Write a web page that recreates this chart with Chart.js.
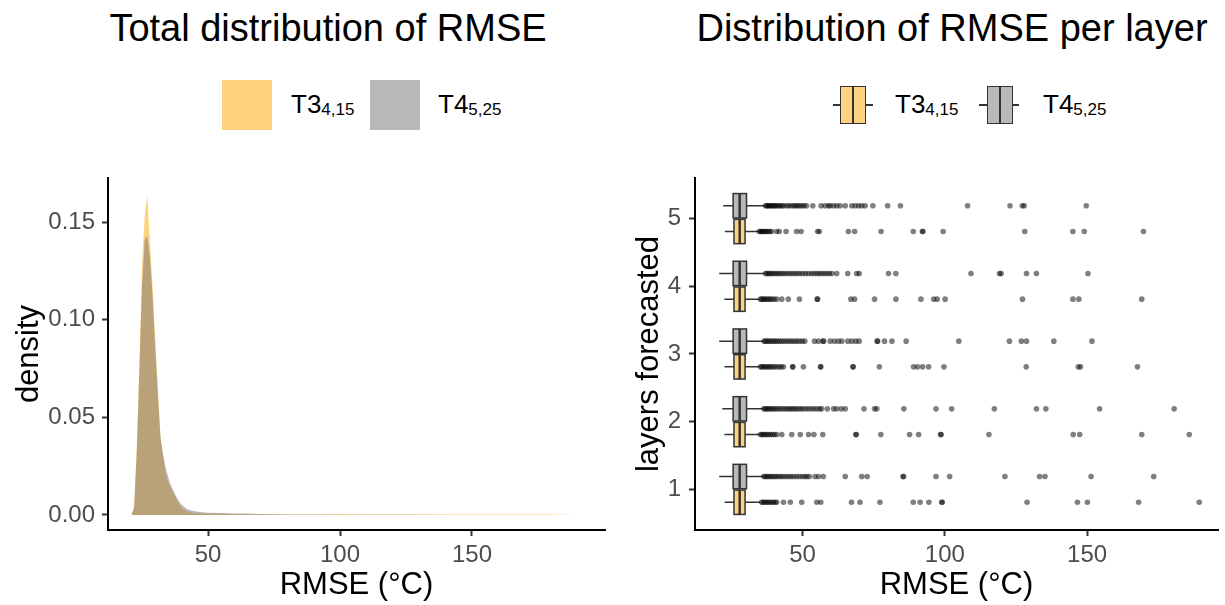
<!DOCTYPE html>
<html>
<head>
<meta charset="utf-8">
<script src="https://cdn.jsdelivr.net/npm/chart.js@4.4.1/dist/chart.umd.min.js"></script>
<style>
  body { margin: 0; background: #fff; font-family: "Liberation Sans", Arial, sans-serif; }
  #page { position: relative; width: 1225px; height: 605px; overflow: hidden; background: #fff; }
  .title { position: absolute; top: 6px; font-size: 38px; line-height: 44px; color: #000; white-space: nowrap; transform: translateX(-50%); }
  .key { position: absolute; box-sizing: border-box; }
  .lab { position: absolute; top: 89px; font-size: 26px; line-height: 30px; color: #000; white-space: nowrap; }
  .lab sub { font-size: 17px; vertical-align: -2px; line-height: 0; }
  .whisk { position: absolute; height: 1.5px; background: #333; }
  .box { position: absolute; border: 1.5px solid #333; box-sizing: border-box; }
  .med { position: absolute; width: 2px; background: #333; }
  canvas { position: absolute; top: 150px; }
</style>
</head>
<body>
<div id="page">
  <div class="title" style="left:328px">Total distribution of RMSE</div>
  <div class="title" style="left:952px">Distribution of RMSE per layer</div>

  <!-- left legend -->
  <div class="key" style="left:222px;top:80px;width:50px;height:50px;background:rgba(255,165,0,0.5)"></div>
  <div class="lab" style="left:291px">T3<sub>4,15</sub></div>
  <div class="key" style="left:370px;top:80px;width:50px;height:50px;background:rgba(115,115,115,0.5)"></div>
  <div class="lab" style="left:438px">T4<sub>5,25</sub></div>

  <!-- right legend -->
  <div class="whisk" style="left:833px;top:104px;width:40px"></div>
  <div class="box" style="left:840px;top:86px;width:26px;height:38px;background:#ffd280"></div>
  <div class="med" style="left:852px;top:86px;height:38px"></div>
  <div class="lab" style="left:895px">T3<sub>4,15</sub></div>
  <div class="whisk" style="left:979px;top:104px;width:40px"></div>
  <div class="box" style="left:987px;top:86px;width:26px;height:38px;background:#b9b9b9"></div>
  <div class="med" style="left:999px;top:86px;height:38px"></div>
  <div class="lab" style="left:1043px">T4<sub>5,25</sub></div>

  <canvas id="chartDensity" width="612" height="455" style="left:0px"></canvas>
  <canvas id="chartBox" width="613" height="455" style="left:612px"></canvas>
</div>

<script>
// ---- density panel ----
const rmseGrid = [21, 22, 23, 24, 25, 26, 27, 28, 29, 30, 31, 32, 33, 34, 35, 36, 37, 38, 39, 40,
  42, 44, 46, 48, 50, 55, 60, 65, 70, 80, 90, 100, 110, 120, 130, 140, 150, 160, 170, 180, 190];
const densityT3 = [0, 0.004, 0.035, 0.078, 0.128, 0.153, 0.164, 0.139, 0.117, 0.090, 0.064, 0.039,
  0.0296, 0.0213, 0.0164, 0.0136, 0.0109, 0.0082, 0.0058, 0.0037, 0.0016, 0.0011, 0.0009, 0.0008,
  0.0007, 0.0006, 0.0005, 0.0004, 0.0004, 0.0003, 0.0003, 0.0004, 0.0002, 0.0002, 0.0003, 0.0002,
  0.0003, 0.0002, 0.0003, 0.0002, 0];
const densityT4 = [0, 0.004, 0.032, 0.074, 0.118, 0.141, 0.143, 0.132, 0.112, 0.086, 0.062, 0.040,
  0.031, 0.024, 0.019, 0.015, 0.012, 0.0092, 0.007, 0.0052, 0.003, 0.0022, 0.0017, 0.0014,
  0.0012, 0.0010, 0.0008, 0.0007, 0.0005, 0.0003, 0.0002, 0.00015, 0.0001, 0.0001, 0.0001, 0.00005,
  0.00005, 0.00005, 0.00005, 0.00005, 0];
const densityXTicks = [50, 100, 150];
const densityYTicks = [0, 0.05, 0.10, 0.15];

// ---- boxplot panel ----
const layers = [1, 2, 3, 4, 5];
const layerTicks = [1, 2, 3, 4, 5];
const boxXTicks = [50, 100, 150];

const t3Lower = [22.6, 22.5, 22.6, 22.5, 22.7];
const t3Q1 = [25.9, 25.9, 25.9, 25.9, 25.9];
const t3Median = [27.9, 27.9, 27.9, 27.9, 27.9];
const t3Q3 = [29.8, 29.8, 29.8, 29.8, 29.8];
const t3Upper = [35.0, 34.8, 34.8, 34.8, 34.5];

const t4Lower = [20.7, 21.8, 20.7, 20.7, 22.1];
const t4Q1 = [25.6, 25.6, 25.6, 25.6, 25.6];
const t4Median = [27.9, 27.9, 27.9, 27.9, 27.9];
const t4Q3 = [30.3, 30.3, 30.3, 30.3, 30.3];
const t4Upper = [36.2, 36.2, 36.3, 36.6, 36.6];

// outliers, one list per layer (1..5)
const t3Outliers = [
  [35.6, 36.1, 36.6, 37.2, 37.8, 38.4, 39.0, 39.7, 40.4, 40.9, 43.3, 45.7, 49.7, 55.0, 56.4, 67.2, 70.2,
   77.2, 88.9, 91.3, 94.4, 98.9, 99.1, 128.9, 146.6, 150.1, 168.1, 189.4],
  [35.2, 35.7, 36.2, 36.8, 37.4, 38.0, 38.7, 39.4, 40.1, 40.9, 42.7, 46.2, 49.2, 52.1, 54.0, 57.1, 68.7,
   68.9, 77.5, 87.6, 90.8, 98.5, 98.7, 115.5, 145.1, 147.4, 169.2, 185.9],
  [35.2, 35.7, 36.2, 36.8, 37.4, 38.0, 38.6, 39.3, 40.0, 40.8, 41.7, 42.5, 43.3, 46.5, 46.6, 50.3, 56.3,
   56.4, 67.7, 67.8, 77.0, 89.0, 90.4, 92.2, 94.3, 99.7, 128.6, 146.9, 147.7, 167.7],
  [35.2, 35.7, 36.2, 36.7, 37.3, 37.9, 38.5, 39.2, 40.0, 40.9, 42.7, 45.0, 48.9, 55.1, 55.3, 67.0, 68.3,
   75.3, 82.8, 91.6, 96.1, 97.3, 100.1, 127.3, 145.0, 147.1, 169.2],
  [34.8, 35.2, 35.6, 36.0, 36.5, 36.9, 37.4, 37.9, 38.5, 39.1, 40.9, 41.8, 44.2, 47.9, 49.5, 55.3, 55.9,
   66.1, 68.3, 77.6, 88.9, 92.1, 92.3, 99.4, 128.1, 145.0, 149.0, 169.8],
];
const t4Outliers = [
  [36.4, 36.9, 37.5, 38.1, 38.7, 39.4, 40.1, 40.8, 41.6, 42.4, 43.2, 44.1, 45.0, 45.9, 46.8, 47.8, 48.8,
   49.8, 50.8, 51.5, 52.4, 54.4, 55.6, 57.3, 65.0, 70.8, 72.7, 85.3, 85.5, 96.9, 101.7, 121.1, 133.3,
   135.2, 151.4, 173.4],
  [36.4, 36.9, 37.4, 38.0, 38.6, 39.2, 39.9, 40.6, 41.3, 42.1, 42.9, 43.7, 44.5, 45.3, 46.0, 46.8, 47.5,
   48.3, 49.2, 50.0, 51.0, 52.0, 53.0, 54.0, 55.0, 56.0, 56.7, 58.7, 60.9, 62.0, 63.6, 65.0, 71.6, 75.3,
   76.1, 85.6, 96.9, 102.4, 117.4, 132.2, 135.5, 154.4, 180.6],
  [36.5, 37.0, 37.6, 38.2, 38.9, 39.6, 40.3, 41.0, 41.8, 42.6, 43.5, 44.4, 45.3, 46.2, 47.1, 48.0, 48.9,
   49.9, 50.8, 54.2, 55.6, 57.2, 57.4, 59.7, 61.2, 62.6, 63.8, 65.9, 67.3, 68.7, 69.9, 76.2, 76.4, 78.8,
   81.4, 86.4, 104.9, 122.7, 126.9, 128.7, 138.3, 151.7],
  [37.0, 37.5, 38.0, 38.6, 39.2, 39.9, 40.6, 41.3, 42.0, 42.8, 43.6, 44.5, 45.4, 46.3, 47.2, 48.1, 49.0,
   50.0, 51.0, 52.0, 53.1, 54.0, 55.0, 55.8, 56.7, 57.6, 58.5, 59.4, 60.3, 62.0, 65.9, 69.0, 69.9, 80.2,
   82.8, 109.2, 119.2, 119.8, 128.7, 132.2, 150.3],
  [37.0, 37.4, 37.8, 38.2, 38.7, 39.1, 39.6, 40.0, 40.5, 41.1, 41.6, 42.2, 42.9, 43.5, 44.6, 45.3, 46.2,
   47.0, 47.6, 48.3, 49.0, 49.8, 50.5, 51.4, 53.6, 56.5, 57.9, 59.1, 59.7, 60.9, 62.0, 63.2, 65.0, 67.3,
   68.5, 69.7, 70.8, 72.0, 74.7, 79.9, 84.4, 108.0, 122.9, 127.2, 127.9, 149.7],
];

const ORANGE = "rgba(255,165,0,0.5)";
const GRAY = "rgba(115,115,115,0.5)";
const DODGE = 0.19;      // offset of each box from the layer centre
const BOX_HALF = 0.18;   // half box height (layer units)

Chart.defaults.font.family = "'Liberation Sans', Arial, sans-serif";
Chart.defaults.animation = false;

function axisStyle(ticks, min, max, title, titlePad, fmt) {
  return {
    type: "linear",
    min, max,
    afterBuildTicks: (axis) => { axis.ticks = ticks.map((v) => ({ value: v })); },
    ticks: { color: "#4d4d4d", font: { size: 24 }, padding: 5, callback: fmt || ((v) => v) },
    grid: { drawOnChartArea: false, drawTicks: true, tickLength: 6, tickColor: "#333", tickWidth: 2 },
    border: { display: true, color: "#000", width: 2 },
    title: { display: true, text: title, color: "#000", font: { size: 31 }, padding: titlePad },
  };
}

function renderDensity() {
  const canvas = document.getElementById("chartDensity");
  const x = axisStyle(densityXTicks, 12.1, 200.4, "RMSE (°C)", { top: 0, bottom: 1 });
  x.afterFit = (s) => { s.height = 75; };
  const y = axisStyle(densityYTicks, -0.0077, 0.1727, "density", { top: 11, bottom: 0 }, (v) => v.toFixed(2));
  y.afterFit = (s) => { s.width = 108; };
  y.ticks.padding = 7;

  new Chart(canvas.getContext("2d"), {
    type: "line",
    data: {
      datasets: [
        { label: "T4", data: rmseGrid.map((r, i) => ({ x: r, y: densityT4[i] })), backgroundColor: GRAY,
          borderWidth: 0, pointRadius: 0, fill: "origin", tension: 0 },
        { label: "T3", data: rmseGrid.map((r, i) => ({ x: r, y: densityT3[i] })), backgroundColor: ORANGE,
          borderWidth: 0, pointRadius: 0, fill: "origin", tension: 0 },
      ],
    },
    options: {
      responsive: false,
      devicePixelRatio: 1,
      layout: { padding: { top: 28, right: 7, left: 0, bottom: 0 } },
      plugins: { legend: { display: false }, tooltip: { enabled: false } },
      scales: { x, y },
    },
  });
}

const boxPlugin = {
  id: "boxes",
  beforeDatasetsDraw(chart) {
    const { ctx, scales } = chart;
    drawBoxes(ctx, scales, t4Lower, t4Q1, t4Median, t4Q3, t4Upper, DODGE, "#b9b9b9");
    drawBoxes(ctx, scales, t3Lower, t3Q1, t3Median, t3Q3, t3Upper, -DODGE, "#ffd280");
  },
};

function drawBoxes(ctx, { x, y }, lo, q1, med, q3, hi, offset, fill) {
  ctx.save();
  ctx.strokeStyle = "#333";
  layers.forEach((layer, i) => {
    const yc = y.getPixelForValue(layer + offset);
    const yt = y.getPixelForValue(layer + offset + BOX_HALF);
    const yb = y.getPixelForValue(layer + offset - BOX_HALF);
    ctx.lineWidth = 1.5;
    ctx.beginPath();
    ctx.moveTo(x.getPixelForValue(lo[i]), yc);
    ctx.lineTo(x.getPixelForValue(q1[i]), yc);
    ctx.moveTo(x.getPixelForValue(q3[i]), yc);
    ctx.lineTo(x.getPixelForValue(hi[i]), yc);
    ctx.stroke();
    const xl = x.getPixelForValue(q1[i]);
    const xr = x.getPixelForValue(q3[i]);
    ctx.fillStyle = fill;
    ctx.fillRect(xl, yt, xr - xl, yb - yt);
    ctx.strokeRect(xl, yt, xr - xl, yb - yt);
    ctx.lineWidth = 2.5;
    ctx.beginPath();
    ctx.moveTo(x.getPixelForValue(med[i]), yt);
    ctx.lineTo(x.getPixelForValue(med[i]), yb);
    ctx.stroke();
  });
  ctx.restore();
}

function outlierPoints(lists, offset) {
  const pts = [];
  lists.forEach((vals, i) => vals.forEach((v) => pts.push({ x: v, y: layers[i] + offset })));
  return pts;
}

function renderBoxes() {
  const canvas = document.getElementById("chartBox");
  const x = axisStyle(boxXTicks, 12.2, 196.0, "RMSE (°C)", { top: 0, bottom: 1 });
  x.afterFit = (s) => { s.height = 75; };
  const y = axisStyle(layerTicks, 0.4, 5.6, "layers forecasted", { top: 19, bottom: 0 });
  y.afterFit = (s) => { s.width = 83; };
  y.ticks.padding = 8;

  new Chart(canvas.getContext("2d"), {
    type: "scatter",
    data: {
      datasets: [
        { label: "T4 outliers", data: outlierPoints(t4Outliers, DODGE), backgroundColor: "rgba(0,0,0,0.5)",
          borderWidth: 0, pointRadius: 2.8 },
        { label: "T3 outliers", data: outlierPoints(t3Outliers, -DODGE), backgroundColor: "rgba(0,0,0,0.5)",
          borderWidth: 0, pointRadius: 2.8 },
      ],
    },
    options: {
      responsive: false,
      devicePixelRatio: 1,
      layout: { padding: { top: 28, right: 7, left: 0, bottom: 0 } },
      plugins: { legend: { display: false }, tooltip: { enabled: false } },
      scales: { x, y },
    },
    plugins: [boxPlugin],
  });
}

renderDensity();
renderBoxes();
</script>
</body>
</html>
